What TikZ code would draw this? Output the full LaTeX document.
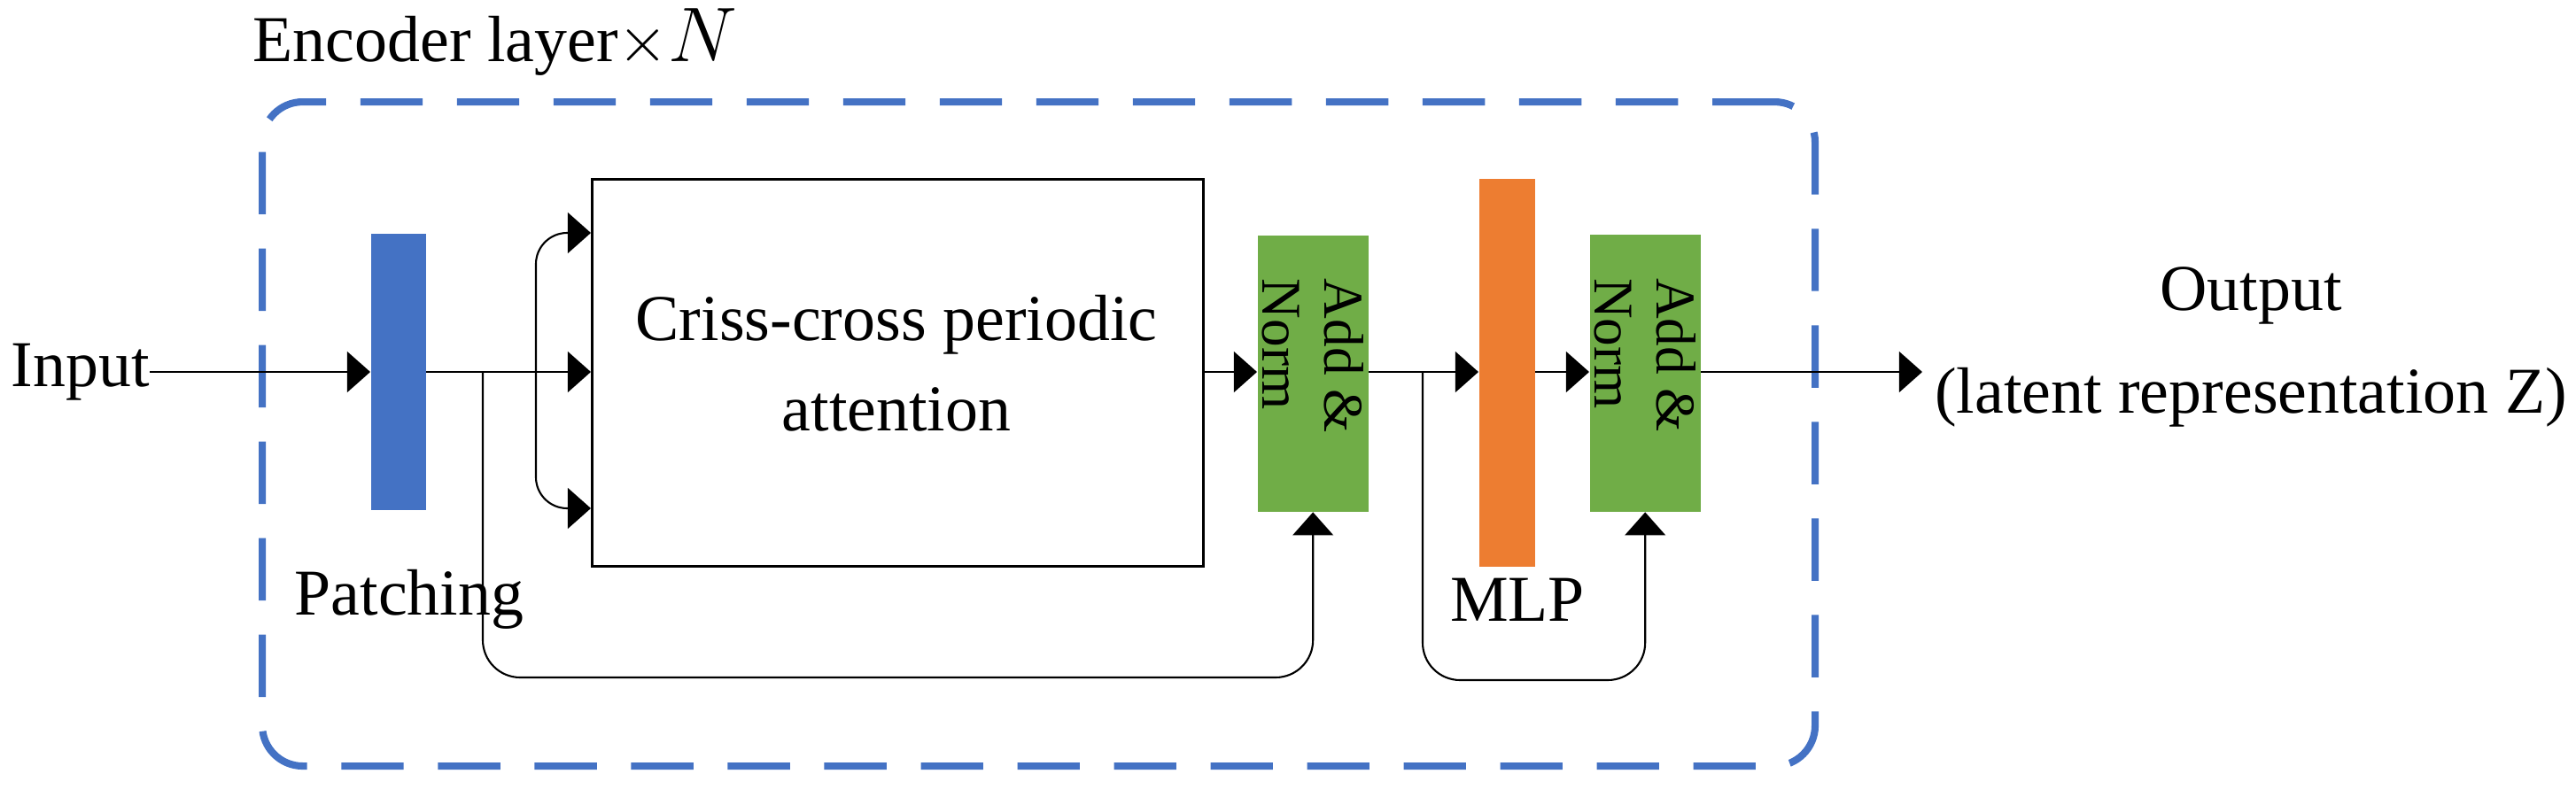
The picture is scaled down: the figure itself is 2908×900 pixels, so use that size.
\documentclass[tikz,border=0pt]{standalone}
\usepackage{fontspec}
\setmainfont{Liberation Serif}
\usetikzlibrary{arrows.meta}
\definecolor{pblue}{HTML}{4472C4}
\definecolor{pgreen}{HTML}{70AD47}
\definecolor{porange}{HTML}{ED7D31}
\begin{document}
\begin{tikzpicture}[x=0.01cm,y=-0.01cm,
  txt/.style={font=\fontsize{21}{25}\selectfont, inner sep=0pt},
  bar/.style={draw=none, inner sep=0pt, anchor=north west},
  conn/.style={line width=0.6pt, -{Triangle[length=7.4pt,width=13pt]}},
  plain/.style={line width=0.6pt},
  an/.style={font=\fontsize{18}{20}\selectfont, rotate=-90, align=left}]
\useasboundingbox (0,0) rectangle (2908,900);
% dashed container
\node[draw=pblue, line width=2.3pt, dash pattern=on 20pt off 11pt, rounded corners=13pt,
  minimum width=1753*0.01cm, minimum height=750*0.01cm, anchor=north west, inner sep=0pt] (enc) at (292,111) {};
\node[txt, anchor=base west] (title) at (285,69) {Encoder layer$\times$\fontsize{26}{28}\selectfont$N$};
% blocks
\node[bar, fill=pblue, minimum width=62*0.01cm, minimum height=312*0.01cm] (patch) at (418,263) {};
\node[draw, line width=0.8pt, anchor=north west, minimum width=690*0.01cm, minimum height=437*0.01cm, inner sep=0pt] (att) at (667,201) {};
\node[txt, align=center] (atttxt) at (1012,410) {Criss-cross periodic\\[4pt]attention};
\node[bar, fill=pgreen, minimum width=125*0.01cm, minimum height=312*0.01cm] (an1) at (1419,265) {};
\node[an] at ([yshift=20*0.01cm]an1.center) {Add \&\\Norm};
\node[bar, fill=porange, minimum width=63*0.01cm, minimum height=438*0.01cm] (mlp) at (1669,201) {};
\node[bar, fill=pgreen, minimum width=125*0.01cm, minimum height=313*0.01cm] (an2) at (1794,264) {};
\node[an] at ([yshift=20*0.01cm]an2.center) {Add \&\\Norm};
% labels
\node[txt, anchor=west] (input) at (12,420) {Input};
\node[txt] (patchlbl) at (462,677) {Patching};
\node[txt] (mlplbl) at (1713,677) {MLP};
\node[txt, align=center] (output) at (2541,392) {Output\\[8pt](latent representation Z)};
% coordinates
\coordinate (s1) at (545,420);
\coordinate (br) at (605,420);
\coordinate (s2) at (1606,420);
\coordinate (outend) at (2170,420);
% connectors
\draw[conn] (input.east) -- (patch.west |- input.east);
\draw[plain] (patch.east |- s1) -- (br);
\draw[conn] (br) -- (att.west |- br);
\draw[conn, rounded corners=10pt] (br) -- (605,263) -- (att.west |- 0,263);
\draw[conn, rounded corners=10pt] (br) -- (605,574) -- (att.west |- 0,574);
\draw[conn, rounded corners=12pt] (s1) -- (545,765) -- (an1.south |- 0,765) -- (an1.south);
\draw[conn] (att.east |- 0,420) -- (an1.west |- 0,420);
\draw[conn] (an1.east |- 0,420) -- (mlp.west |- 0,420);
\draw[conn, rounded corners=12pt] (s2) -- (1606,768) -- (an2.south |- 0,768) -- (an2.south);
\draw[conn] (mlp.east |- 0,420) -- (an2.west |- 0,420);
\draw[conn] (an2.east |- 0,420) -- (outend);
\end{tikzpicture}
\end{document}
